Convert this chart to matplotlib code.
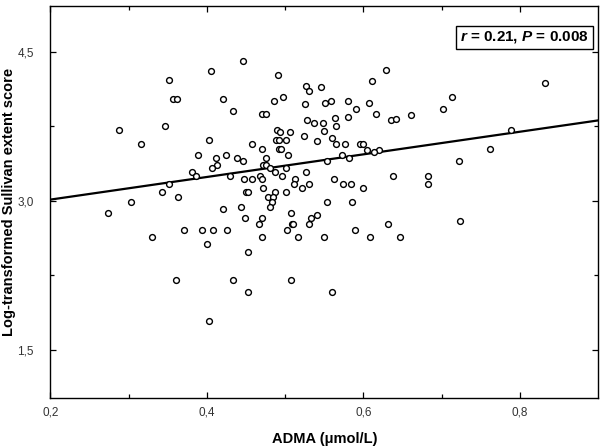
import matplotlib
matplotlib.use("Agg")
import matplotlib.pyplot as plt
import numpy as np

plt.rcParams['font.family'] = ['Liberation Sans', 'DejaVu Sans']
plt.rcParams['mathtext.fontset'] = 'custom'
plt.rcParams['mathtext.it'] = 'Liberation Sans:italic:bold'
plt.rcParams['mathtext.rm'] = 'Liberation Sans:bold'

# ADMA (umol/L) vs log-transformed Sullivan extent score
adma = [0.405, 0.352, 0.357, 0.362, 0.421, 0.433, 0.288, 0.346, 0.316, 0.403,
        0.446, 0.491, 0.629, 0.611, 0.526, 0.531, 0.546, 0.486, 0.497, 0.471,
        0.475, 0.525, 0.551, 0.559, 0.580, 0.607, 0.590, 0.616, 0.580, 0.635,
        0.641, 0.528, 0.537, 0.548, 0.564, 0.565, 0.550, 0.490, 0.493, 0.506,
        0.524, 0.560, 0.541, 0.488, 0.492, 0.501, 0.457, 0.565, 0.576, 0.595,
        0.599, 0.832, 0.713, 0.702, 0.661, 0.789, 0.471, 0.492, 0.495, 0.605,
        0.620, 0.762, 0.614, 0.388, 0.412, 0.425, 0.439, 0.413, 0.406, 0.381,
        0.386, 0.430, 0.352, 0.343, 0.363, 0.303, 0.274, 0.420, 0.443, 0.330,
        0.371, 0.394, 0.408, 0.426, 0.400, 0.504, 0.446, 0.476, 0.472, 0.475,
        0.481, 0.487, 0.501, 0.496, 0.526, 0.553, 0.573, 0.581, 0.448, 0.458,
        0.468, 0.471, 0.472, 0.450, 0.452, 0.487, 0.478, 0.484, 0.483, 0.481,
        0.501, 0.513, 0.511, 0.521, 0.531, 0.563, 0.574, 0.584, 0.600, 0.638,
        0.553, 0.586, 0.449, 0.471, 0.466, 0.507, 0.509, 0.510, 0.533, 0.541,
        0.531, 0.502, 0.471, 0.516, 0.550, 0.589, 0.608, 0.632, 0.647, 0.722,
        0.682, 0.683, 0.723, 0.361, 0.433, 0.403, 0.453, 0.452, 0.508, 0.560]
score = [4.30, 4.21, 4.02, 4.02, 4.02, 3.90, 3.71, 3.75, 3.57, 3.61,
         4.41, 4.26, 4.31, 4.20, 4.155, 4.10, 4.14, 4.00, 4.04, 3.87,
         3.87, 3.97, 3.98, 4.00, 4.00, 3.98, 3.92, 3.87, 3.84, 3.81,
         3.82, 3.81, 3.78, 3.78, 3.83, 3.75, 3.70, 3.71, 3.69, 3.69,
         3.655, 3.635, 3.605, 3.61, 3.61, 3.61, 3.57, 3.57, 3.57, 3.57,
         3.57, 4.18, 4.04, 3.92, 3.86, 3.71, 3.52, 3.52, 3.52, 3.51,
         3.51, 3.52, 3.49, 3.46, 3.43, 3.46, 3.43, 3.36, 3.33, 3.29,
         3.25, 3.25, 3.17, 3.09, 3.04, 2.99, 2.88, 2.915, 2.94, 2.64,
         2.71, 2.71, 2.71, 2.71, 2.57, 3.46, 3.40, 3.43, 3.36, 3.36,
         3.33, 3.29, 3.33, 3.25, 3.29, 3.40, 3.46, 3.43, 3.22, 3.22,
         3.25, 3.22, 3.13, 3.09, 3.09, 3.09, 3.04, 3.04, 2.99, 2.94,
         3.09, 3.22, 3.17, 3.13, 3.17, 3.22, 3.17, 3.17, 3.13, 3.25,
         2.99, 2.99, 2.83, 2.83, 2.77, 2.88, 2.77, 2.77, 2.83, 2.86,
         2.77, 2.71, 2.64, 2.64, 2.64, 2.71, 2.64, 2.77, 2.64, 3.40,
         3.25, 3.17, 2.80, 2.20, 2.20, 1.79, 2.49, 2.08, 2.20, 2.08]

fit_intercept = 2.785
fit_slope = 1.137
stat_text = "$r$ = 0.21, $P$ = 0.008"

x_ticks = [0.2, 0.4, 0.6, 0.8]
x_tick_labels = ["0,2", "0,4", "0,6", "0,8"]
y_ticks = [1.5, 3.0, 4.5]
y_tick_labels = ["1,5", "3,0", "4,5"]

fig = plt.figure(figsize=(6.0, 4.48), dpi=100)
ax = fig.add_axes([0.084, 0.112, 0.913, 0.875])

ax.plot(adma, score, 'o', ms=4.2, mfc='white', mec='black', mew=1.0, ls='none', zorder=3)

xl = np.array([0.2, 0.9])
ax.plot(xl, fit_intercept + fit_slope * xl, color='black', lw=1.6, zorder=2)

ax.set_xlim(0.2, 0.9)
ax.set_ylim(1.02, 4.96)
ax.set_xticks(x_ticks)
ax.set_xticklabels(x_tick_labels)
ax.set_xticks([0.3, 0.5, 0.7], minor=True)
ax.set_yticks(y_ticks)
ax.set_yticklabels(y_tick_labels)
ax.set_yticks([2.25, 3.75], minor=True)
ax.tick_params(which='both', direction='in', top=True, right=True,
               labelsize=8.5, labelcolor='#333333')
ax.tick_params(axis='x', pad=6)
ax.tick_params(axis='y', pad=12)
ax.tick_params(which='major', length=4, width=0.9)
ax.tick_params(which='minor', length=3, width=0.9)
for s in ax.spines.values():
    s.set_linewidth(1.0)

ax.set_xlabel("ADMA (\u03bcmol/L)", fontsize=10.5, fontweight='bold', labelpad=10)
ax.set_ylabel("Log-transformed Sullivan extent score", fontsize=10.5,
              fontweight='bold', labelpad=1)

ax.text(0.983, 0.94, stat_text, transform=ax.transAxes, ha='right', va='top',
        fontsize=11, fontweight='bold',
        bbox=dict(boxstyle='square,pad=0.25', fc='white', ec='black', lw=1.0))

fig.savefig("out.png", dpi=100)
